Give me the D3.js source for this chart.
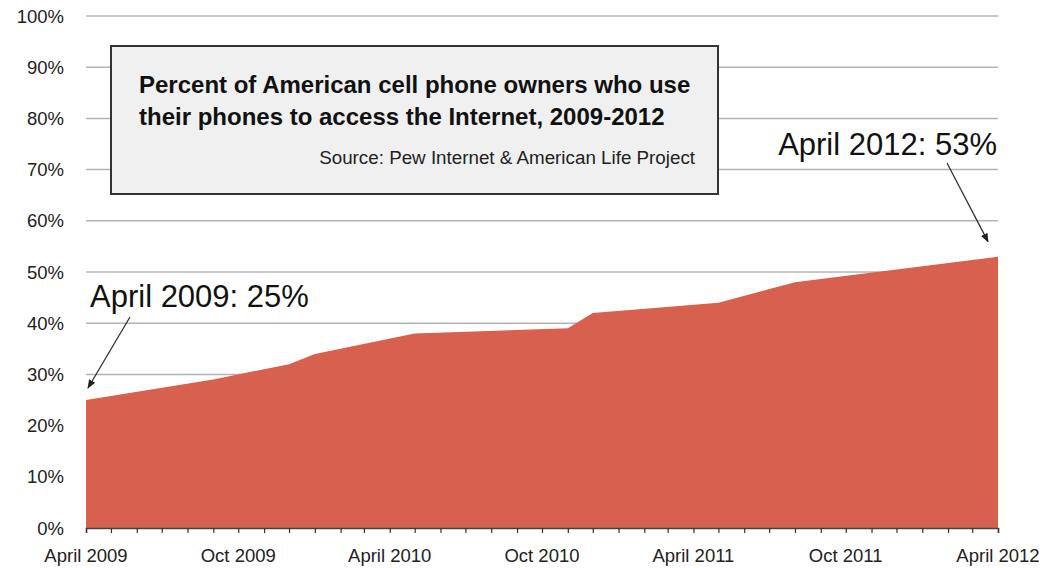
<!DOCTYPE html>
<html><head><meta charset="utf-8">
<script src="https://cdn.jsdelivr.net/npm/d3@7"></script>
<style>
html,body{margin:0;padding:0;background:#fff;}
svg text{font-family:"Liberation Sans",Arial,Helvetica,sans-serif;}
</style></head>
<body><svg id="chart" width="1052" height="568"></svg>
<script>
const dates = ["2009-04","2009-09","2009-12","2010-01","2010-05","2010-11","2010-12","2011-05","2011-08","2012-04"];
const values = [25, 29, 32, 34, 38, 39, 42, 44, 48, 53];
const yTicks = [0,10,20,30,40,50,60,70,80,90,100];
const xLabelMonths = ["2009-04","2009-10","2010-04","2010-10","2011-04","2011-10","2012-04"];
const titleLines = ["Percent of American cell phone owners who use","their phones to access the Internet, 2009-2012"];
const sourceText = "Source: Pew Internet & American Life Project";
const annotations = [
  {text:"April 2009: 25%", date:"2009-04", value:25},
  {text:"April 2012: 53%", date:"2012-04", value:53}
];

const parse = d3.utcParse("%Y-%m");
const fmtLabel = d => (d.getUTCMonth()===3 ? "April " : "Oct ") + d.getUTCFullYear();
const data = dates.map((d,i)=>({date:parse(d), value:values[i]}));

const svg = d3.select("#chart");
const x = d3.scaleUtc().domain([parse("2009-04"), parse("2012-04")]).range([86, 998]);
const y = d3.scaleLinear().domain([0,100]).range([528, 16]);

// gridlines
svg.append("g").selectAll("line").data(yTicks.filter(t=>t>0)).join("line")
  .attr("x1", 86).attr("x2", 998)
  .attr("y1", d=>y(d)).attr("y2", d=>y(d))
  .attr("stroke", "#b4b4b4").attr("stroke-width", 1.5);

// y labels
svg.append("g").selectAll("text").data(yTicks).join("text")
  .attr("x", 64).attr("y", d=>y(d)).attr("dy", "0.36em")
  .attr("text-anchor", "end").attr("font-size", 18.5).attr("fill", "#222")
  .text(d=>d+"%");

// area
const area = d3.area().x(d=>x(d.date)).y0(y(0)).y1(d=>y(d.value));
svg.append("path").datum(data).attr("d", area).attr("fill", "#d8604f");

// x axis
const xAxis = d3.axisBottom(x).ticks(d3.utcMonth.every(1)).tickSize(5).tickFormat("");
const gx = svg.append("g").attr("transform", `translate(0,${y(0)})`).call(xAxis);
gx.select(".domain").attr("stroke", "#444").attr("stroke-width", 1.5);
gx.selectAll(".tick line").attr("stroke", "#333").attr("stroke-width", 1.2);

svg.append("g").selectAll("text").data(xLabelMonths.map(parse)).join("text")
  .attr("x", d=>x(d)).attr("y", 562).attr("text-anchor", "middle")
  .attr("font-size", 18.5).attr("fill", "#222").text(fmtLabel);

// title box
svg.append("rect").attr("x", 111).attr("y", 46).attr("width", 607).attr("height", 148)
  .attr("fill", "#f0f0f0").attr("stroke", "#333").attr("stroke-width", 2);
svg.append("g").selectAll("text").data(titleLines).join("text")
  .attr("x", 139).attr("y", (d,i)=>93 + i*32)
  .attr("font-size", 24).attr("font-weight", "bold").attr("fill", "#111").text(d=>d);
svg.append("text").attr("x", 695).attr("y", 164).attr("text-anchor", "end")
  .attr("font-size", 18.8).attr("fill", "#222").text(sourceText);

// arrows
const defs = svg.append("defs");
defs.append("marker").attr("id","ah").attr("viewBox","0 0 10 10").attr("refX",9).attr("refY",5)
  .attr("markerWidth",9).attr("markerHeight",9).attr("markerUnits","userSpaceOnUse").attr("orient","auto")
  .append("path").attr("d","M0,1 L10,5 L0,9 Z").attr("fill","#222");

const a0 = annotations[0], a1 = annotations[1];
svg.append("text").attr("x", 90).attr("y", 307).attr("font-size", 31).attr("fill", "#111").text(a0.text);
svg.append("line").attr("x1", 130).attr("y1", 317)
  .attr("x2", x(parse(a0.date)) + 2).attr("y2", y(a0.value) - 12)
  .attr("stroke", "#333").attr("stroke-width", 1.3).attr("marker-end", "url(#ah)");
svg.append("text").attr("x", 997).attr("y", 155).attr("text-anchor","end").attr("font-size", 31).attr("fill", "#111").text(a1.text);
svg.append("line").attr("x1", 947).attr("y1", 163)
  .attr("x2", x(parse(a1.date)) - 10).attr("y2", y(a1.value) - 15)
  .attr("stroke", "#333").attr("stroke-width", 1.3).attr("marker-end", "url(#ah)");
</script></body></html>
